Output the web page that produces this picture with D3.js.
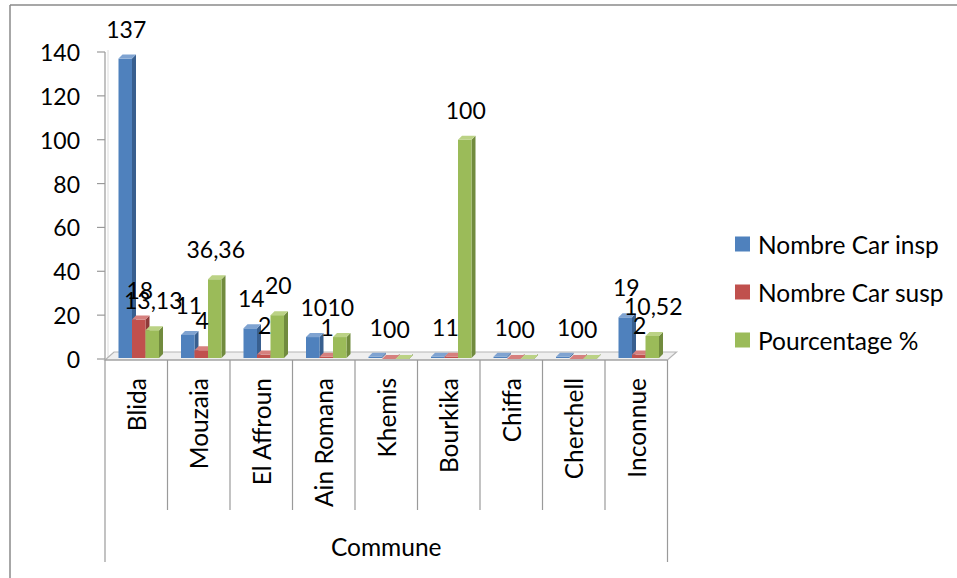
<!DOCTYPE html>
<html>
<head>
<meta charset="utf-8">
<script src="https://cdn.jsdelivr.net/npm/d3@7"></script>
<style>
  html, body { margin: 0; padding: 0; background: #fff; }
  svg { display: block; }
  text { font-family: Lato, "Open Sans", sans-serif; fill: #000; }
</style>
</head>
<body>
<svg id="chart" width="957" height="578"></svg>
<script>
// ---- data ----
const categories = ["Blida", "Mouzaia", "El Affroun", "Ain Romana", "Khemis", "Bourkika", "Chiffa", "Cherchell", "Inconnue"];
const seriesNames = ["Nombre Car insp", "Nombre Car susp", "Pourcentage %"];
const carInsp = [137, 11, 14, 10, 1, 1, 1, 1, 19];
const carSusp = [18, 4, 2, 1, 0, 1, 0, 0, 2];
const pourcentage = [13.13, 36.36, 20, 10, 0, 100, 0, 0, 10.52];
const yTicks = [0, 20, 40, 60, 80, 100, 120, 140];
const axisTitle = "Commune";

const seriesValues = [carInsp, carSusp, pourcentage];
const colors = [
  { front: "#4F81BD", side: "#385F8F", top: "#7FA3D1" },
  { front: "#C0504D", side: "#8E3A38", top: "#D6807E" },
  { front: "#9BBB59", side: "#718B3E", top: "#BBD285" }
];
const numSize = 23, wordSize = 24.5;

const svg = d3.select("#chart");

// outer frame (only left and top visible)
svg.append("line").attr("x1", 10).attr("y1", 5).attr("x2", 10).attr("y2", 578)
  .attr("stroke", "#8a8a8a").attr("stroke-width", 1.5);
svg.append("line").attr("x1", 10).attr("y1", 5).attr("x2", 957).attr("y2", 5)
  .attr("stroke", "#8a8a8a").attr("stroke-width", 1.5);

const x0 = d3.scaleBand().domain(categories).range([105, 667.5]).padding(0);
const bw = x0.bandwidth();
const x1 = d3.scaleBand().domain(seriesNames).range([bw * 0.216, bw * 0.864]).padding(0);
const y = d3.scaleLinear().domain([0, 140]).range([359, 52]);
const depth = 4;

// y axis
const yAxis = svg.append("g");
yAxis.append("line").attr("x1", 105).attr("x2", 105).attr("y1", y(140)).attr("y2", y(0) + 1)
  .attr("stroke", "#9a9a9a").attr("stroke-width", 1.2);
yAxis.append("line").attr("x1", 108).attr("x2", 108).attr("y1", y(140) - 2).attr("y2", y(0) - 2)
  .attr("stroke", "#dcdcdc").attr("stroke-width", 1);
yAxis.selectAll("line.tick").data(yTicks).join("line")
  .attr("class", "tick")
  .attr("x1", 97).attr("x2", 105)
  .attr("y1", d => y(d)).attr("y2", d => y(d))
  .attr("stroke", "#9a9a9a").attr("stroke-width", 1.2);
yAxis.selectAll("text").data(yTicks).join("text")
  .attr("x", 80).attr("y", d => y(d))
  .attr("text-anchor", "end").attr("dominant-baseline", "central")
  .attr("font-size", numSize)
  .text(d => d);

// floor
const fx0 = x0.range()[0], fx1 = x0.range()[1];
const fy = y(0) + 1;
svg.append("path")
  .attr("d", `M${fx0},${fy} L${fx0 + 9},${fy - 8} L${fx1 + 9},${fy - 8} L${fx1},${fy} Z`)
  .attr("fill", "#efefef").attr("stroke", "#b5b5b5").attr("stroke-width", 1.2);

// bars
const groups = svg.append("g").selectAll("g").data(categories).join("g")
  .attr("transform", d => `translate(${x0(d)},0)`);

categories.forEach((cat, ci) => {
  const g = d3.select(groups.nodes()[ci]);
  seriesNames.forEach((s, si) => {
    const v = seriesValues[si][ci];
    const bx = x1(s), w = x1.bandwidth();
    const top = y(v), base = y(0) - 1;
    const c = colors[si];
    g.append("path")
      .attr("d", `M${bx + w},${top} L${bx + w + depth},${top - depth} L${bx + w + depth},${base - depth} L${bx + w},${base} Z`)
      .attr("fill", c.side);
    g.append("rect").attr("x", bx).attr("y", top).attr("width", w).attr("height", Math.max(0, base - top))
      .attr("fill", c.front);
    g.append("path")
      .attr("d", `M${bx},${top} L${bx + depth},${top - depth} L${bx + w + depth},${top - depth} L${bx + w},${top} Z`)
      .attr("fill", c.top);
  });
});

// data labels
categories.forEach((cat, ci) => {
  seriesNames.forEach((s, si) => {
    const v = seriesValues[si][ci];
    svg.append("text")
      .attr("x", x0(cat) + x1(s) + x1.bandwidth() / 2 + 1)
      .attr("y", y(v) - 21)
      .attr("text-anchor", "middle")
      .attr("font-size", numSize)
      .text(String(v).replace(".", ","));
  });
});

// category axis
const cAxis = svg.append("g");
cAxis.append("line").attr("x1", fx0).attr("x2", fx1).attr("y1", fy).attr("y2", fy)
  .attr("stroke", "#9a9a9a").attr("stroke-width", 1.2);
const bounds = categories.map(c => x0(c)).concat([fx1]);
cAxis.selectAll("line.div").data(bounds).join("line")
  .attr("class", "div")
  .attr("x1", d => d).attr("x2", d => d)
  .attr("y1", fy).attr("y2", (d, i) => (i === 0 || i === bounds.length - 1) ? 562 : 510)
  .attr("stroke", "#9a9a9a").attr("stroke-width", 1.2);
cAxis.selectAll("text.cat").data(categories).join("text")
  .attr("class", "cat")
  .attr("transform", d => `translate(${x0(d) + bw / 2},378) rotate(-90)`)
  .attr("text-anchor", "end").attr("dominant-baseline", "central")
  .attr("font-size", wordSize)
  .text(d => d);
cAxis.append("text")
  .attr("x", (fx0 + fx1) / 2).attr("y", 546)
  .attr("text-anchor", "middle").attr("dominant-baseline", "central")
  .attr("font-size", wordSize)
  .text(axisTitle);

// legend
const legend = svg.append("g").attr("transform", "translate(735,244)");
const li = legend.selectAll("g").data(seriesNames).join("g")
  .attr("transform", (d, i) => `translate(0,${i * 48})`);
li.append("rect").attr("x", 0).attr("y", -7.5).attr("width", 15).attr("height", 15)
  .attr("fill", (d, i) => colors[i].front);
li.append("text").attr("x", 23).attr("y", 0)
  .attr("dominant-baseline", "central").attr("font-size", wordSize)
  .text(d => d);
</script>
</body>
</html>
